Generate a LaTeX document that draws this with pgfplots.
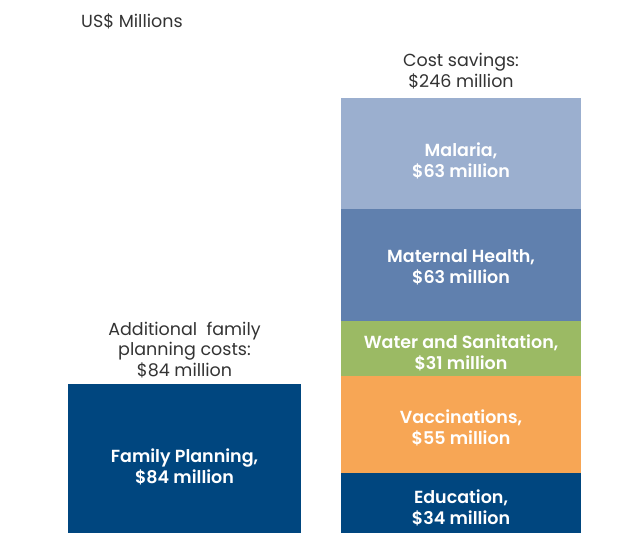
\documentclass[border=0pt]{standalone}
\usepackage{pgfplots}
\pgfplotsset{compat=1.18}
\usepackage{fontspec}
\setmainfont{Poppins}[BoldFont={Poppins SemiBold}]
\definecolor{navy}{RGB}{0,70,127}
\definecolor{orangec}{RGB}{247,166,85}
\definecolor{greenc}{RGB}{155,186,100}
\definecolor{maternal}{RGB}{96,128,174}
\definecolor{malaria}{RGB}{155,175,207}
\definecolor{txt}{RGB}{51,51,51}
\tikzset{inlab/.style={align=center, font=\fontsize{17.5}{21}\selectfont\bfseries, text=white, inner sep=0pt},
  hdlab/.style={align=center, font=\fontsize{17.5}{20.5}\selectfont, text=txt, inner sep=0pt}}
\begin{document}
\begin{tikzpicture}
\begin{axis}[
  scale only axis, width=617pt, height=534pt,
  xmin=0, xmax=617, ymin=-0.566, ymax=301.47,
  axis lines=none, clip=false,
  ybar stacked, bar width=240,
]
\addplot[fill=navy, draw=none, bar width=233] coordinates {(184.5,84) (461,0)};
\addplot[fill=navy, draw=none] coordinates {(184.5,0) (461,34)};
\addplot[fill=orangec, draw=none] coordinates {(184.5,0) (461,55)};
\addplot[fill=greenc, draw=none] coordinates {(184.5,0) (461,31)};
\addplot[fill=maternal, draw=none] coordinates {(184.5,0) (461,63)};
\addplot[fill=malaria, draw=none] coordinates {(184.5,0) (461,63)};
\coordinate (ll) at (rel axis cs:0,0);
\coordinate (ur) at (rel axis cs:1,1);
\coordinate (fp) at (axis cs:184.5,37.6);
\coordinate (ed) at (axis cs:461,14.4);
\coordinate (va) at (axis cs:461,59.7);
\coordinate (wa) at (axis cs:461,102);
\coordinate (mh) at (axis cs:461,150.2);
\coordinate (ma) at (axis cs:461,210.7);
\coordinate (h1) at (axis cs:184.5,103.5);
\coordinate (h2) at (axis cs:461,261.3);
\coordinate (h3) at (axis cs:81,289.6);
\end{axis}
\path (ll) rectangle (ur);
\node[inlab] at (fp) {Family Planning,\\\$84 million};
\node[inlab] at (ed) {Education,\\\$34 million};
\node[inlab] at (va) {Vaccinations,\\\$55 million};
\node[inlab] at (wa) {Water and Sanitation,\\\$31 million};
\node[inlab] at (mh) {Maternal Health,\\\$63 million};
\node[inlab] at (ma) {Malaria,\\\$63 million};
\node[hdlab] at (h1) {Additional~~family\\planning costs:\\\$84 million};
\node[hdlab] at (h2) {Cost savings:\\\$246 million};
\node[hdlab, anchor=west] at (h3) {US\$ Millions};
\end{tikzpicture}
\end{document}
